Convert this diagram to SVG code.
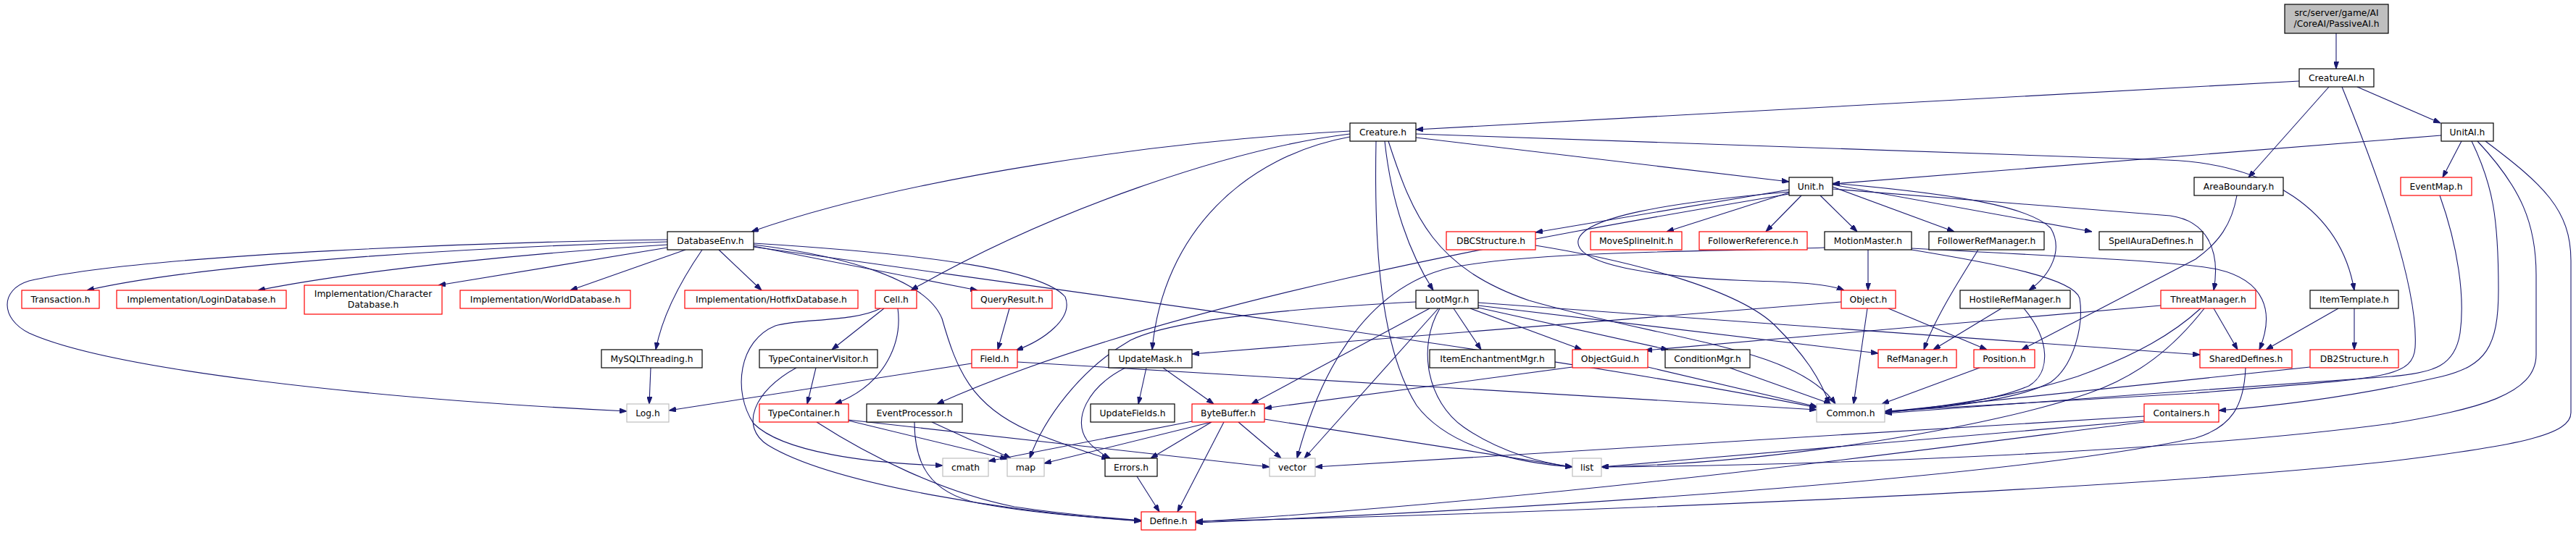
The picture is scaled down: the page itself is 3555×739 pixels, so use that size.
<svg xmlns="http://www.w3.org/2000/svg" width="3555" height="739" viewBox="0 0 3555 739">
<style>
.e path{fill:none;stroke:#191970;stroke-width:1.1;marker-end:url(#a)}
.nd rect{fill:#fff;stroke:#000;stroke-width:1.2}
.nd.r rect{stroke:#ff0000}
.nd.g rect{stroke:#bfbfbf}
.nd.root rect{fill:#bfbfbf}
.nd text{font-family:"DejaVu Sans","Liberation Sans",sans-serif;font-size:12.3px;text-anchor:middle;fill:#000}
</style>
<defs>
<marker id="a" viewBox="0 0 10 7" refX="10" refY="3.5" markerWidth="10" markerHeight="7" markerUnits="userSpaceOnUse" orient="auto"><path d="M0,0L10,3.5L0,7z" fill="#191970" stroke="#191970" stroke-width="1"/></marker>
</defs>
<rect width="3555" height="739" fill="#fff"/>
<g id="connectors" class="e">
<path d="M3224,46 L3224,95"/>
<path d="M3173,112 L1954,179"/>
<path d="M3214,120 L3103,245"/>
<path d="M3232,120 C3285,250 3338,400 3333,480 C3330,525 3280,522 3030,543 L2601,568"/>
<path d="M3253,120 L3368,170"/>
<path d="M3369,187 L2529,254"/>
<path d="M3397,195 L3371,245"/>
<path d="M3411,195 C3440,255 3448,300 3448,400 C3448,480 3430,505 3370,520 C3250,548 3150,560 3062,567"/>
<path d="M3419,195 C3480,260 3500,310 3500,380 L3500,490 C3500,545 3420,565 3300,585 C3000,625 2500,643 2210,645"/>
<path d="M3430,195 C3510,255 3548,290 3548,360 L3548,570 C3548,600 3480,615 3300,637 C2900,680 2100,710 1650,720"/>
<path d="M3367,270 C3392,340 3402,410 3395,460 C3388,505 3360,515 3300,520 C3100,535 2800,555 2601,571"/>
<path d="M3087,270 C3080,310 3062,335 3030,358 L2790,483"/>
<path d="M1954,190 L2469,251"/>
<path d="M1954,185 L2990,221 C3130,226 3230,290 3249,401"/>
<path d="M1863,181 C1600,195 1250,245 1037,320"/>
<path d="M1863,185 C1700,205 1450,290 1257,401"/>
<path d="M1863,189 C1720,215 1605,320 1590,483"/>
<path d="M1911,195 C1920,280 1945,350 1978,401"/>
<path d="M1899,195 C1897,300 1898,470 1955,560 C2000,620 2100,640 2170,645"/>
<path d="M1916,195 C1950,300 1980,370 2110,415 C2300,470 2480,480 2533,558"/>
<path d="M2119,339 C2250,360 2400,400 2450,450 C2490,490 2510,520 2525,558"/>
<path d="M2469,262 L2119,321"/>
<path d="M2469,266 L2300,320"/>
<path d="M2486,270 L2437,320"/>
<path d="M2512,270 L2563,320"/>
<path d="M2529,258 L2697,320"/>
<path d="M2529,255 L2887,320"/>
<path d="M2529,253 C2700,268 2800,285 2830,315 C2848,345 2830,380 2800,401"/>
<path d="M2529,261 L2995,298 C3045,305 3065,345 3055,401"/>
<path d="M2469,268 C2100,330 1600,420 1293,558"/>
<path d="M2469,265 C2300,280 2185,300 2178,332 C2172,368 2300,384 2420,388 C2490,390 2525,393 2545,401"/>
<path d="M2578,345 L2578,401"/>
<path d="M2518,342 C2380,348 2130,345 2000,370 C1880,400 1820,520 1790,633"/>
<path d="M2638,343 C2800,352 3000,360 3060,372 C3125,387 3140,430 3118,483"/>
<path d="M2638,345 C2760,365 2862,385 2870,412 C2876,450 2862,505 2830,528 C2780,555 2660,565 2601,569"/>
<path d="M2730,345 C2705,385 2670,440 2655,483"/>
<path d="M2762,426 L2668,483"/>
<path d="M2793,426 C2830,470 2830,515 2800,533 C2750,555 2660,565 2601,569"/>
<path d="M3055,426 L3088,483"/>
<path d="M2982,422 L2270,484"/>
<path d="M3037,426 C3000,460 2950,490 2867,520 C2780,548 2680,562 2601,570"/>
<path d="M3042,426 C3000,480 2950,520 2883,543 C2750,590 2450,640 2210,645"/>
<path d="M3227,426 L3127,483"/>
<path d="M3249,426 L3249,483"/>
<path d="M3188,507 L2601,569"/>
<path d="M3099,508 C3097,560 3080,590 3030,605 C2800,655 2200,700 1650,722"/>
<path d="M2959,575 L1815,645"/>
<path d="M2959,581 L2210,645"/>
<path d="M2959,583 C2700,615 2200,685 1650,721"/>
<path d="M2732,508 L2597,558"/>
<path d="M2577,426 L2558,558"/>
<path d="M2606,426 L2742,483"/>
<path d="M2541,417 L1645,489"/>
<path d="M2274,507 L2508,562"/>
<path d="M2170,507 L1745,564"/>
<path d="M2387,508 L2527,558"/>
<path d="M2006,426 L2044,483"/>
<path d="M2029,426 L2183,483"/>
<path d="M2040,425 L2302,483"/>
<path d="M2040,422 L2592,488"/>
<path d="M2040,418 L3036,490"/>
<path d="M1973,426 L1727,558"/>
<path d="M1985,426 L1800,633"/>
<path d="M1987,426 C1955,480 1970,555 2020,590 C2070,625 2130,640 2170,645"/>
<path d="M1954,417 C1800,425 1620,440 1560,470 C1490,510 1440,580 1421,633"/>
<path d="M1582,508 L1571,558"/>
<path d="M1553,508 C1500,535 1480,580 1500,608 C1510,620 1520,627 1532,633"/>
<path d="M1605,508 L1675,558"/>
<path d="M1645,582 L1364,637"/>
<path d="M1672,583 L1441,640"/>
<path d="M1672,583 L1588,633"/>
<path d="M1689,583 L1625,707"/>
<path d="M1709,583 L1768,633"/>
<path d="M1745,579 L2170,645"/>
<path d="M1569,658 L1600,707"/>
<path d="M1286,583 L1395,633"/>
<path d="M1262,583 C1262,640 1282,680 1350,695 C1430,710 1520,716 1575,719"/>
<path d="M1171,581 L1390,634"/>
<path d="M1171,580 L1752,645"/>
<path d="M1127,583 C1200,630 1300,680 1400,700 C1480,712 1540,716 1575,719"/>
<path d="M1126,508 L1114,558"/>
<path d="M1099,508 C1040,540 1020,590 1060,615 C1150,670 1400,708 1575,720"/>
<path d="M1220,426 L1148,483"/>
<path d="M1239,426 C1245,470 1225,530 1152,558"/>
<path d="M1215,426 C1180,445 1100,440 1070,450 C1020,470 1010,540 1040,585 C1080,625 1200,640 1301,643"/>
<path d="M1341,502 L923,567"/>
<path d="M1404,500 L2507,566"/>
<path d="M1393,426 L1377,483"/>
<path d="M898,508 L896,558"/>
<path d="M921,334 C700,340 300,360 120,401"/>
<path d="M921,331 C700,334 200,350 40,388 C0,400 0,440 40,460 C150,510 500,550 865,568"/>
<path d="M921,338 C750,348 500,372 356,401"/>
<path d="M921,342 L605,394"/>
<path d="M946,345 L787,401"/>
<path d="M969,345 C945,380 915,430 905,483"/>
<path d="M992,345 L1051,401"/>
<path d="M1040,340 L1349,401"/>
<path d="M1040,336 C1300,352 1440,375 1470,410 C1482,440 1440,470 1402,484"/>
<path d="M1040,338 C1180,355 1280,390 1300,440 C1320,510 1340,560 1420,595 C1470,615 1510,628 1530,634"/>
<path d="M1040,341 C1600,420 2200,500 2507,563"/>
</g>
<g id="n0" class="nd root"><rect x="3153" y="6" width="143" height="40"/><text x="3224.5" y="21.5">src/server/game/AI</text><text x="3224.5" y="36.5">/CoreAI/PassiveAI.h</text></g>
<g id="n1" class="nd"><rect x="3173" y="95" width="103" height="25"/><text x="3224.5" y="112">CreatureAI.h</text></g>
<g id="n2" class="nd"><rect x="1863" y="170" width="91" height="25"/><text x="1908.5" y="187">Creature.h</text></g>
<g id="n3" class="nd"><rect x="3369" y="170" width="72" height="25"/><text x="3405" y="187">UnitAI.h</text></g>
<g id="n4" class="nd"><rect x="2469" y="245" width="60" height="25"/><text x="2499" y="262">Unit.h</text></g>
<g id="n5" class="nd"><rect x="3028" y="245" width="123" height="25"/><text x="3089.5" y="262">AreaBoundary.h</text></g>
<g id="n6" class="nd r"><rect x="3313" y="245" width="98" height="25"/><text x="3362" y="262">EventMap.h</text></g>
<g id="n7" class="nd"><rect x="921" y="320" width="119" height="25"/><text x="980.5" y="337">DatabaseEnv.h</text></g>
<g id="n8" class="nd r"><rect x="1996" y="320" width="123" height="25"/><text x="2057.5" y="337">DBCStructure.h</text></g>
<g id="n9" class="nd r"><rect x="2195" y="320" width="126" height="25"/><text x="2258" y="337">MoveSplineInit.h</text></g>
<g id="n10" class="nd r"><rect x="2345" y="320" width="149" height="25"/><text x="2419.5" y="337">FollowerReference.h</text></g>
<g id="n11" class="nd"><rect x="2518" y="320" width="120" height="25"/><text x="2578" y="337">MotionMaster.h</text></g>
<g id="n12" class="nd"><rect x="2662" y="320" width="159" height="25"/><text x="2741.5" y="337">FollowerRefManager.h</text></g>
<g id="n13" class="nd"><rect x="2897" y="320" width="143" height="25"/><text x="2968.5" y="337">SpellAuraDefines.h</text></g>
<g id="n14" class="nd r"><rect x="30" y="401" width="107" height="25"/><text x="83.5" y="418">Transaction.h</text></g>
<g id="n15" class="nd r"><rect x="161" y="401" width="234" height="25"/><text x="278" y="418">Implementation/LoginDatabase.h</text></g>
<g id="n16" class="nd r"><rect x="420" y="394" width="190" height="40"/><text x="515" y="409.5">Implementation/Character</text><text x="515" y="424.5">Database.h</text></g>
<g id="n17" class="nd r"><rect x="635" y="401" width="235" height="25"/><text x="752.5" y="418">Implementation/WorldDatabase.h</text></g>
<g id="n18" class="nd r"><rect x="945" y="401" width="239" height="25"/><text x="1064.5" y="418">Implementation/HotfixDatabase.h</text></g>
<g id="n19" class="nd r"><rect x="1208" y="401" width="57" height="25"/><text x="1236.5" y="418">Cell.h</text></g>
<g id="n20" class="nd r"><rect x="1341" y="401" width="111" height="25"/><text x="1396.5" y="418">QueryResult.h</text></g>
<g id="n21" class="nd"><rect x="1954" y="401" width="86" height="25"/><text x="1997" y="418">LootMgr.h</text></g>
<g id="n22" class="nd r"><rect x="2541" y="401" width="75" height="25"/><text x="2578.5" y="418">Object.h</text></g>
<g id="n23" class="nd"><rect x="2705" y="401" width="152" height="25"/><text x="2781" y="418">HostileRefManager.h</text></g>
<g id="n24" class="nd r"><rect x="2982" y="401" width="131" height="25"/><text x="3047.5" y="418">ThreatManager.h</text></g>
<g id="n25" class="nd"><rect x="3188" y="401" width="122" height="25"/><text x="3249" y="418">ItemTemplate.h</text></g>
<g id="n26" class="nd"><rect x="830" y="483" width="139" height="25"/><text x="899.5" y="500">MySQLThreading.h</text></g>
<g id="n27" class="nd"><rect x="1048" y="483" width="163" height="25"/><text x="1129.5" y="500">TypeContainerVisitor.h</text></g>
<g id="n28" class="nd r"><rect x="1341" y="483" width="63" height="25"/><text x="1372.5" y="500">Field.h</text></g>
<g id="n29" class="nd"><rect x="1530" y="483" width="115" height="25"/><text x="1587.5" y="500">UpdateMask.h</text></g>
<g id="n30" class="nd"><rect x="1973" y="483" width="173" height="25"/><text x="2059.5" y="500">ItemEnchantmentMgr.h</text></g>
<g id="n31" class="nd r"><rect x="2170" y="483" width="104" height="25"/><text x="2222" y="500">ObjectGuid.h</text></g>
<g id="n32" class="nd"><rect x="2298" y="483" width="117" height="25"/><text x="2356.5" y="500">ConditionMgr.h</text></g>
<g id="n33" class="nd r"><rect x="2592" y="483" width="108" height="25"/><text x="2646" y="500">RefManager.h</text></g>
<g id="n34" class="nd r"><rect x="2724" y="483" width="84" height="25"/><text x="2766" y="500">Position.h</text></g>
<g id="n35" class="nd r"><rect x="3036" y="483" width="127" height="25"/><text x="3099.5" y="500">SharedDefines.h</text></g>
<g id="n36" class="nd r"><rect x="3188" y="483" width="122" height="25"/><text x="3249" y="500">DB2Structure.h</text></g>
<g id="n37" class="nd g"><rect x="865" y="558" width="58" height="25"/><text x="894" y="575">Log.h</text></g>
<g id="n38" class="nd r"><rect x="1048" y="558" width="123" height="25"/><text x="1109.5" y="575">TypeContainer.h</text></g>
<g id="n39" class="nd"><rect x="1196" y="558" width="132" height="25"/><text x="1262" y="575">EventProcessor.h</text></g>
<g id="n40" class="nd"><rect x="1505" y="558" width="116" height="25"/><text x="1563" y="575">UpdateFields.h</text></g>
<g id="n41" class="nd r"><rect x="1645" y="558" width="100" height="25"/><text x="1695" y="575">ByteBuffer.h</text></g>
<g id="n42" class="nd g"><rect x="2507" y="558" width="94" height="25"/><text x="2554" y="575">Common.h</text></g>
<g id="n43" class="nd r"><rect x="2959" y="558" width="103" height="25"/><text x="3010.5" y="575">Containers.h</text></g>
<g id="n44" class="nd g"><rect x="1301" y="633" width="63" height="25"/><text x="1332.5" y="650">cmath</text></g>
<g id="n45" class="nd g"><rect x="1390" y="633" width="51" height="25"/><text x="1415.5" y="650">map</text></g>
<g id="n46" class="nd"><rect x="1525" y="633" width="72" height="25"/><text x="1561" y="650">Errors.h</text></g>
<g id="n47" class="nd g"><rect x="1752" y="633" width="63" height="25"/><text x="1783.5" y="650">vector</text></g>
<g id="n48" class="nd g"><rect x="2170" y="633" width="40" height="25"/><text x="2190" y="650">list</text></g>
<g id="n49" class="nd r"><rect x="1575" y="707" width="75" height="25"/><text x="1612.5" y="724">Define.h</text></g>
</svg>
